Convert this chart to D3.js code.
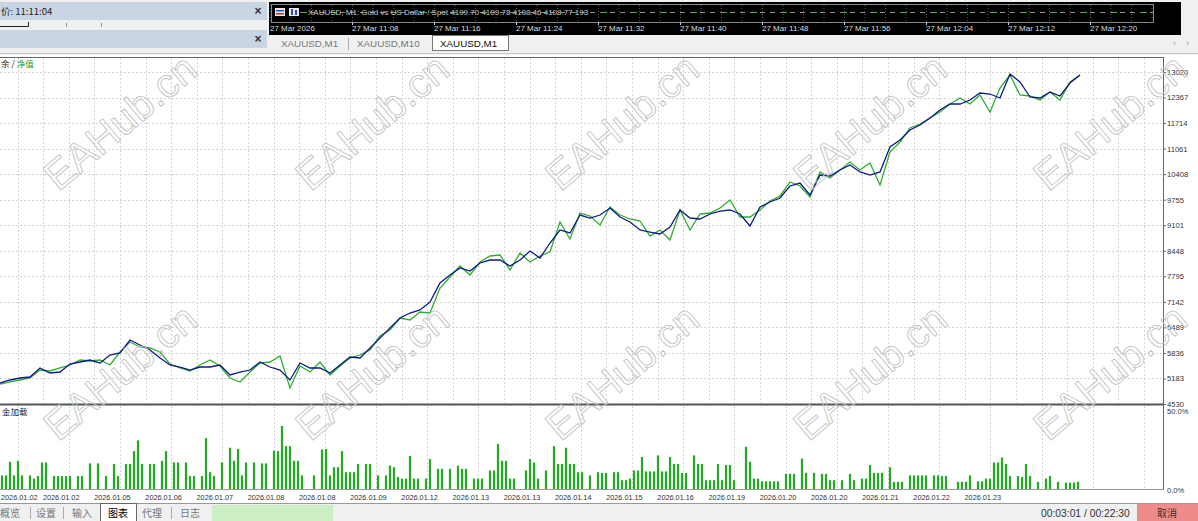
<!DOCTYPE html>
<html><head><meta charset="utf-8">
<script src="https://cdn.jsdelivr.net/npm/d3@7"></script>
<style>
body{margin:0;background:#f0f0f0;overflow:hidden}
svg{display:block}
text{font-family:"Liberation Sans",Arial,sans-serif}
.cjk{font-family:"Noto Sans CJK SC","Liberation Sans",sans-serif}
</style>
</head><body>
<svg id="c" width="1198" height="521"></svg>
<script>
// ---------- data ----------
const balance = [5067,5144,5195,5220,5451,5323,5348,5553,5604,5655,
 5578,5783,5834,6167,6039,5911,5706,5527,5476,5399,
 5476,5476,5527,5272,5348,5399,5604,5476,5399,5144,
 5578,5451,5451,5323,5527,5732,5706,5962,6218,6473,
 6729,6857,6934,7138,7624,7829,8008,7931,8136,8212,
 8212,8059,8212,8443,8264,8647,8980,8903,9363,9286,
 9363,9542,9312,9184,8980,8928,8877,9056,9491,9286,
 9261,9389,9465,9491,9389,9082,9568,9696,9798,10105,
 10181,9875,10386,10360,10514,10642,10463,10386,10463,11102,
 11281,11537,11665,11844,12048,12202,12202,12304,12483,12457,
 12355,12969,12764,12381,12355,12508,12406,12739,12943];
const equity = [5041,5093,5144,5195,5399,5374,5451,5527,5655,5630,
 5655,5527,5860,6115,5988,5962,5860,5553,5451,5374,
 5527,5655,5502,5195,5093,5348,5578,5604,5758,4939,
 5502,5348,5604,5272,5502,5706,5783,5911,6269,6422,
 6729,6678,6883,6857,7496,7778,8059,7829,8161,8315,
 8340,7957,8391,8161,8315,8417,9184,8749,9414,9338,
 9107,9568,9363,9261,9210,8826,8980,8724,9491,8980,
 9389,9414,9542,9747,9312,9312,9491,9721,9849,10207,
 10105,9823,10463,10309,10514,10718,10514,10693,10130,10974,
 11230,11588,11690,11844,11997,12202,12355,12202,12432,11997,
 12611,12943,12432,12406,12304,12508,12304,12764,12943];
const depositLoad = [8.5,8.5,17,8.5,17.6,8.5,0,8.5,6.5,8.1,
 16.6,16.6,0,8.1,8.1,8.1,8.1,8.1,0,8.1,
 8.1,0,16,0,16,0,8.1,0,15.6,8.1,
 0,15.6,15.6,23.7,30.4,15.6,0,15.6,15.6,0,
 17.6,23.7,0,16.6,16.6,0,16.6,8.1,8.1,0,
 8.1,31.8,10.5,8.1,0,16.6,0,25.8,17.6,25,
 8.5,16.6,0,16.6,0,16,16,0,24,23.7,
 39.4,26.8,26.8,17.6,17.6,8.5,0,0,8.5,0,
 24.7,25,8.5,13.6,13.6,23.7,10.5,10.5,10.5,15.6,
 0,15.6,15.6,0,8.5,0,8.5,14.6,13.6,7.5,
 6.5,6.5,20.7,6.5,6.5,0,6.5,18.7,0,12.6,
 12.6,0,12.6,0,14.6,12.6,12.6,0,6.5,6.5,
 6.5,0,11.6,11.6,28.2,17.6,17.6,6.5,6.5,0,
 0,11.6,18.7,16.6,6.5,0,11.6,0,26.8,15.6,
 15.6,25.8,15.6,15.6,10.5,10.5,0,8.5,0,10.5,
 10.1,10.1,0,10.5,10.5,5.5,5.5,6.5,11.6,11.6,
 20,11,11,11,21,11,11,20,15.6,15.6,
 10.1,10.1,0,21,15.6,15.6,5.5,5.5,5.5,15.6,
 5.5,15,15,5.5,0,0,26.4,17,6.5,6.5,
 4.8,4.8,4.8,4.8,4.8,0,9.5,9.5,9.5,0,
 19,10.1,0,10.1,0,9.5,9.5,5.5,5.5,0,
 5.5,0,9.5,5.5,0,6.5,6.5,15,10.1,10.1,
 10.1,0,13.6,4.5,4.5,4.5,0,8.5,8.5,8.5,
 8.5,8.5,0,8.5,8.5,8.1,8.1,0,0,4.5,
 4.5,4.5,8.5,0,4.8,4.8,6.5,6.5,16.6,16.6,
 19.7,15.6,8.1,0,8.1,7.5,15.6,8.1,0,4.5,
 0,6.5,8.1,0,4.5,0,4,4,4,4.5];
const yTicks = [4530,5183,5836,6489,7142,7795,8448,9101,9755,10408,11061,11714,12367,13020];
const loadTicks = ["0.0%","50.0%"];
const dateLabels = ["2026.01.02","2026.01.02","2026.01.05","2026.01.06","2026.01.07","2026.01.08","2026.01.08","2026.01.09","2026.01.12","2026.01.13","2026.01.13","2026.01.14","2026.01.15","2026.01.16","2026.01.19","2026.01.20","2026.01.20","2026.01.21","2026.01.22","2026.01.23"];
const timeLabels = ["27 Mar 2026","27 Mar 11:08","27 Mar 11:16","27 Mar 11:24","27 Mar 11:32","27 Mar 11:40","27 Mar 11:48","27 Mar 11:56","27 Mar 12:04","27 Mar 12:12","27 Mar 12:20"];
const chartTabs = ["XAUUSD,M1","XAUUSD,M10","XAUUSD,M1"];
const bottomTabs = ["概览","设置","输入","图表","代理","日志"];
const titleText = "XAUUSD, M1:  Gold vs US Dollar / Spot  4109.70 4109.78 4108.46 4108.77  193";

// ---------- setup ----------
const svg = d3.select("#c");
const W = 1198, H = 521;
const plotR = 1163;

svg.append("rect").attr("width",W).attr("height",H).attr("fill","#f0f0f0");
svg.append("rect").attr("x",0).attr("y",55).attr("width",W).attr("height",448).attr("fill","#ffffff");

// ---------- top-left panel ----------
svg.append("rect").attr("x",0).attr("y",2).attr("width",267).attr("height",18).attr("fill","#c9d5e3");
svg.append("text").attr("class","cjk").attr("x",1).attr("y",15).attr("font-size",9.5).attr("fill","#222").text("价: 11:11:04");
svg.append("path").attr("d","M0,26.5H28.5V22").attr("fill","none").attr("stroke","#222").attr("stroke-width",1);
[66,101].forEach(v=>svg.append("line").attr("x1",v+0.5).attr("x2",v+0.5).attr("y1",23).attr("y2",27).attr("stroke","#999"));
svg.append("rect").attr("x",0).attr("y",30).attr("width",267).attr("height",18).attr("fill","#c9d5e3");
[15,43].forEach(v=>svg.append("text").attr("x",258).attr("y",v).attr("font-size",12).attr("font-weight","bold").attr("fill","#333").attr("text-anchor","middle").text("×"));

// ---------- black price strip ----------
svg.append("rect").attr("x",269).attr("y",2).attr("width",912).attr("height",33).attr("fill","#000");
const stripX = d3.scaleLinear().domain([0,timeLabels.length-1]).range([270,1090]);
const stripGrid = d3.range(0,(timeLabels.length-1)*4+4);
svg.append("g").selectAll("line").data(stripGrid).join("line")
  .attr("x1",d=>stripX(d/4)+0.5).attr("x2",d=>stripX(d/4)+0.5).attr("y1",5).attr("y2",22)
  .attr("stroke","#555").attr("stroke-dasharray","1,2");
svg.append("rect").attr("x",271.5).attr("y",4.5).attr("width",882).attr("height",18).attr("fill","none").attr("stroke","#888");
svg.append("line").attr("x1",300).attr("x2",1153).attr("y1",12.5).attr("y2",12.5).attr("stroke","#8a8a8a").attr("stroke-dasharray","5,5");
svg.append("line").attr("x1",300).attr("x2",1153).attr("y1",12.5).attr("y2",12.5).attr("stroke","#2bc02b").attr("stroke-dasharray","4,26").attr("stroke-dashoffset",-3);
// icons
svg.append("rect").attr("x",275).attr("y",8).attr("width",10).attr("height",8).attr("fill","#e8e8ee");
svg.append("rect").attr("x",276).attr("y",10).attr("width",8).attr("height",1.5).attr("fill","#3050b0");
svg.append("rect").attr("x",276).attr("y",13).attr("width",8).attr("height",1.5).attr("fill","#c03030");
svg.append("rect").attr("x",289).attr("y",8).attr("width",10).attr("height",8).attr("fill","#e8e8ee");
svg.append("rect").attr("x",291).attr("y",9).attr("width",2).attr("height",6).attr("fill","#3050b0");
svg.append("rect").attr("x",295).attr("y",10).attr("width",2).attr("height",5).attr("fill","#3050b0");
svg.append("text").attr("x",308).attr("y",15).attr("font-size",8).attr("fill","#c8c8c8").text(titleText);
svg.append("g").selectAll("text").data(timeLabels).join("text")
  .attr("x",(d,i)=>stripX(i)).attr("y",31).attr("font-size",8).attr("fill","#dddddd").text(d=>d);
svg.append("g").selectAll("line").data(timeLabels.slice(1)).join("line")
  .attr("x1",(d,i)=>stripX(i+1)+0.5).attr("x2",(d,i)=>stripX(i+1)+0.5).attr("y1",22).attr("y2",25).attr("stroke","#ccc");

// ---------- chart tabs ----------
const tabX = [281,357,440];
svg.append("rect").attr("x",432.5).attr("y",35.5).attr("width",76).attr("height",15).attr("fill","#fff").attr("stroke","#777");
svg.append("line").attr("x1",348.5).attr("x2",348.5).attr("y1",38).attr("y2",50).attr("stroke","#aaa");
svg.append("g").selectAll("text").data(chartTabs).join("text")
  .attr("x",(d,i)=>tabX[i]).attr("y",47).attr("font-size",9.8).attr("fill",(d,i)=>i===2?"#111":"#777").text(d=>d);
[["‹",1173],["›",1186]].forEach(a=>svg.append("text").attr("x",a[1]).attr("y",46).attr("font-size",9).attr("fill","#999").text(a[0]));
svg.append("line").attr("x1",0).attr("x2",W).attr("y1",53.5).attr("y2",53.5).attr("stroke","#c8c8c8");

// ---------- scales ----------
const y = d3.scaleLinear().domain([yTicks[0], yTicks[yTicks.length-1]]).range([404,72]);
const x = d3.scaleLinear().domain([0, balance.length-1]).range([0,1080]);
const yLoad = d3.scaleLinear().domain([0,50]).range([489,409]);
const xBar = d3.scaleLinear().domain([0, depositLoad.length-1]).range([2,1078]);
const gridX = d3.scaleLinear().domain([0,44]).range([17.5,17.5+25.6*44]);
const xDate = d3.scaleLinear().domain([0,dateLabels.length-1]).range([10,10+51.2*(dateLabels.length-1)]);

// ---------- grid ----------
const grid = svg.append("g").attr("stroke","#d4d4d4").attr("stroke-dasharray","2,2");
grid.selectAll(".v").data(d3.range(45)).join("line")
  .attr("x1",d=>Math.round(gridX(d))+0.5).attr("x2",d=>Math.round(gridX(d))+0.5)
  .attr("y1",58).attr("y2",403);
grid.selectAll(".h").data(yTicks.slice(1)).join("line")
  .attr("x1",0).attr("x2",plotR).attr("y1",d=>Math.round(y(d))+0.5).attr("y2",d=>Math.round(y(d))+0.5);
grid.selectAll(".v2").data(d3.range(0,45,2)).join("line")
  .attr("x1",d=>Math.round(gridX(d))+0.5).attr("x2",d=>Math.round(gridX(d))+0.5)
  .attr("y1",406).attr("y2",489);

// ---------- lines ----------
svg.append("clipPath").attr("id","pc").append("rect").attr("x",0).attr("y",58).attr("width",plotR).attr("height",346);
const lg = svg.append("g").attr("clip-path","url(#pc)");
const line = d3.line().x((d,i)=>x(i)).y(d=>y(d));
lg.append("path").datum(equity).attr("d",line).attr("fill","none").attr("stroke","#2eae2e").attr("stroke-width",1.3);
lg.append("path").datum(balance).attr("d",line).attr("fill","none").attr("stroke","#0e1a86").attr("stroke-width",1.3);

// ---------- bars ----------
svg.append("g").selectAll("rect").data(depositLoad).join("rect")
  .attr("x",(d,i)=>xBar(i)-1.1).attr("width",2.2)
  .attr("y",d=>yLoad(d)).attr("height",d=>yLoad(0)-yLoad(d))
  .attr("fill","#25a825");

// ---------- frames ----------
svg.append("line").attr("x1",0).attr("x2",plotR+0.5).attr("y1",57.5).attr("y2",57.5).attr("stroke","#666");
svg.append("line").attr("x1",plotR+0.5).attr("x2",plotR+0.5).attr("y1",57).attr("y2",490).attr("stroke","#666");
svg.append("line").attr("x1",0).attr("x2",plotR+0.5).attr("y1",404.5).attr("y2",404.5).attr("stroke","#555").attr("stroke-width",2);
svg.append("line").attr("x1",0).attr("x2",plotR+0.5).attr("y1",489.5).attr("y2",489.5).attr("stroke","#999");

// ---------- axes ----------
const ay = svg.append("g").attr("transform",`translate(${plotR},0)`)
  .call(d3.axisRight(y).tickValues(yTicks).tickSize(3).tickFormat(d3.format("d")));
ay.select(".domain").remove();
ay.selectAll("line").attr("stroke","#666");
ay.selectAll("text").attr("font-size",7.6).attr("fill","#333").attr("font-family","Liberation Sans, Arial").attr("x",4);

svg.append("g").selectAll("text").data(loadTicks).join("text")
  .attr("x",plotR+4).attr("y",(d,i)=>i===0?yLoad(0)+4:yLoad(50)+5)
  .attr("font-size",7.6).attr("fill","#333").text(d=>d);

svg.append("g").selectAll("text").data(dateLabels).join("text")
  .attr("x",(d,i)=>i===0?1:xDate(i)).attr("y",499.5).attr("text-anchor",(d,i)=>i===0?"start":"middle")
  .attr("font-size",7.3).attr("fill","#333").text(d=>d);

// ---------- panel labels ----------
const lbl = svg.append("text").attr("class","cjk").attr("x",1).attr("y",67).attr("font-size",8.5);
lbl.append("tspan").attr("fill","#222").text("余 / ");
lbl.append("tspan").attr("fill","#1a9a1a").text("净值");
svg.append("text").attr("class","cjk").attr("x",2).attr("y",415).attr("font-size",8.5).attr("fill","#222").text("金加载");

// ---------- watermark ----------
const wmX = [120,372,622,870,1110];
const wmY = [122,372];
const wm = svg.append("g").attr("pointer-events","none");
wmY.forEach(cy=>wmX.forEach(cx=>{
  wm.append("text").attr("transform",`translate(${cx},${cy}) rotate(-40)`)
    .attr("text-anchor","middle").attr("dy","0.35em")
    .attr("font-size",41).attr("fill","none").attr("stroke","#c4c4c4").attr("stroke-width",0.9)
    .text("EAHub.cn");
}));

// ---------- bottom bar ----------
svg.append("line").attr("x1",0).attr("x2",W).attr("y1",503.5).attr("y2",503.5).attr("stroke","#999");
svg.append("rect").attr("x",0).attr("y",504).attr("width",W).attr("height",17).attr("fill","#f0f0f0");
svg.append("rect").attr("x",212).attr("y",505).attr("width",121).attr("height",16).attr("fill","#cbeec4");
svg.append("rect").attr("x",100.5).attr("y",503.5).attr("width",36).attr("height",18).attr("fill","#fff").attr("stroke","#666");
const btX = [0,36,72,108,142,180];
svg.append("g").selectAll("text").data(bottomTabs).join("text").attr("class","cjk")
  .attr("x",(d,i)=>btX[i]).attr("y",516.5).attr("font-size",10).attr("fill",(d,i)=>i===3?"#000":"#777").text(d=>d);
[30,63,171].forEach(v=>svg.append("line").attr("x1",v+0.5).attr("x2",v+0.5).attr("y1",507).attr("y2",519).attr("stroke","#aaa"));
svg.append("text").attr("x",1041).attr("y",517).attr("font-size",10.3).attr("fill","#333").text("00:03:01 / 00:22:30");
svg.append("rect").attr("x",1137).attr("y",504).attr("width",61).attr("height",17).attr("fill","#f08b8b");
svg.append("text").attr("class","cjk").attr("x",1167).attr("y",517).attr("text-anchor","middle").attr("font-size",10).attr("fill","#333").text("取消");
</script>
</body></html>
